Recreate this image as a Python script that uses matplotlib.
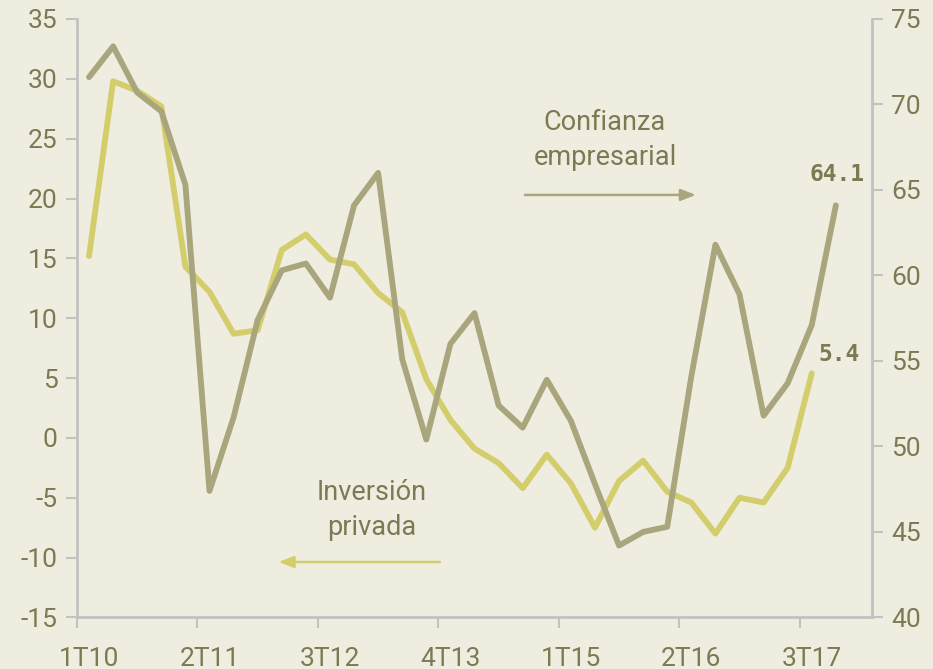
import matplotlib
matplotlib.use("Agg")
import matplotlib.pyplot as plt
import numpy as np

# ---- data ----
quarters = ["1T10","2T10","3T10","4T10","1T11","2T11","3T11","4T11",
            "1T12","2T12","3T12","4T12","1T13","2T13","3T13","4T13",
            "1T14","2T14","3T14","4T14","1T15","2T15","3T15","4T15",
            "1T16","2T16","3T16","4T16","1T17","2T17","3T17","4T17","1T18"]
tick_labels = ["1T10","2T11","3T12","4T13","1T15","2T16","3T17"]
inversion_privada = [15.2, 29.8, 29.0, 27.7, 14.3, 12.2, 8.7, 9.0, 15.7, 17.0,
                     14.9, 14.5, 12.1, 10.5, 4.9, 1.5, -0.9, -2.1, -4.2, -1.4,
                     -3.8, -7.5, -3.6, -1.9, -4.5, -5.4, -8.0, -5.0, -5.4, -2.5, 5.4]
confianza_empresarial = [71.6, 73.4, 70.7, 69.6, 65.3, 47.4, 51.7, 57.4, 60.3, 60.7,
                         58.7, 64.1, 66.0, 55.1, 50.4, 56.0, 57.8, 52.4, 51.1, 53.9,
                         51.5, 47.8, 44.2, 45.0, 45.3, 54.1, 61.8, 58.9, 51.8, 53.7,
                         57.1, 64.1]

BG = "#efede0"
YEL = "#d4cd6c"
GRY = "#a9a67d"
TXT = "#7c7a52"
SPINE = "#c2c2c2"
FONT = "Roboto"

plt.rcParams["font.family"] = [FONT, "DejaVu Sans"]
plt.rcParams["axes.unicode_minus"] = False

fig = plt.figure(figsize=(9.33, 6.69), dpi=100, facecolor=BG)
ax = fig.add_axes([77/933, 1-617.4/669, 795/933, 598.4/669])
ax.set_facecolor(BG)
ax2 = ax.twinx()

x_y = np.arange(len(inversion_privada))
x_g = np.arange(len(confianza_empresarial))
ax.plot(x_y, inversion_privada, color=YEL, lw=4.2, solid_joinstyle="round", solid_capstyle="round", zorder=3)
ax2.plot(x_g, confianza_empresarial, color=GRY, lw=4.2, solid_joinstyle="round", solid_capstyle="round", zorder=3)

ax.set_xlim(-0.5, len(quarters) - 0.5)
ax.set_ylim(-15, 35)
ax2.set_ylim(40, 75)
ax.set_yticks(np.arange(-15, 36, 5))
ax2.set_yticks(np.arange(40, 76, 5))

label_pos = [quarters.index(t) for t in tick_labels]
ax.set_xticks(label_pos)
ax.set_xticklabels(tick_labels)
ax.set_xticks([p - 0.5 for p in label_pos], minor=True)
ax.tick_params(axis="x", which="major", length=0, pad=21, labelsize=19, labelcolor=TXT)
ax.tick_params(axis="x", which="minor", length=8, width=1.5, color=SPINE, direction="out")
ax.tick_params(axis="y", length=8, width=1.5, color=SPINE, labelsize=19, labelcolor=TXT, pad=6)
ax2.tick_params(axis="y", length=8, width=1.5, color=SPINE, labelsize=19, labelcolor=TXT, pad=6)

for a in (ax, ax2):
    for s in a.spines.values():
        s.set_color(SPINE)
        s.set_linewidth(2)
    a.spines["top"].set_visible(False)
ax2.spines["left"].set_visible(False)
ax2.spines["bottom"].set_visible(False)
ax.spines["right"].set_visible(False)

# annotations
ax.text(0.664, 0.798, "Confianza\nempresarial", transform=ax.transAxes, ha="center", va="center",
        fontsize=19.5, color=TXT, linespacing=1.4)
ax.annotate("", xy=(0.782, 0.706), xytext=(0.56, 0.706), xycoords="axes fraction",
            arrowprops=dict(arrowstyle="-|>,head_length=0.9,head_width=0.35", color=GRY, lw=1.8))
ax.text(0.371, 0.179, "Inversión\nprivada", transform=ax.transAxes, ha="center", va="center",
        fontsize=19.5, color=TXT, linespacing=1.4)
ax.annotate("", xy=(0.25, 0.0926), xytext=(0.46, 0.0926), xycoords="axes fraction",
            arrowprops=dict(arrowstyle="-|>,head_length=0.9,head_width=0.35", color=YEL, lw=1.8))

ax2.annotate(f"{confianza_empresarial[-1]:.1f}", xy=(x_g[-1], confianza_empresarial[-1]),
             xytext=(1, 14), textcoords="offset points", ha="center", va="bottom",
             fontsize=16.5, fontweight="bold", color=TXT, family="DejaVu Sans Mono")
ax.annotate(f"{inversion_privada[-1]:.1f}", xy=(x_y[-1], inversion_privada[-1]),
            xytext=(20, 5), textcoords="offset points", ha="center", va="bottom",
            fontsize=16.5, fontweight="bold", color=TXT, family="DejaVu Sans Mono")

fig.savefig("out.png", dpi=100, facecolor=BG)
